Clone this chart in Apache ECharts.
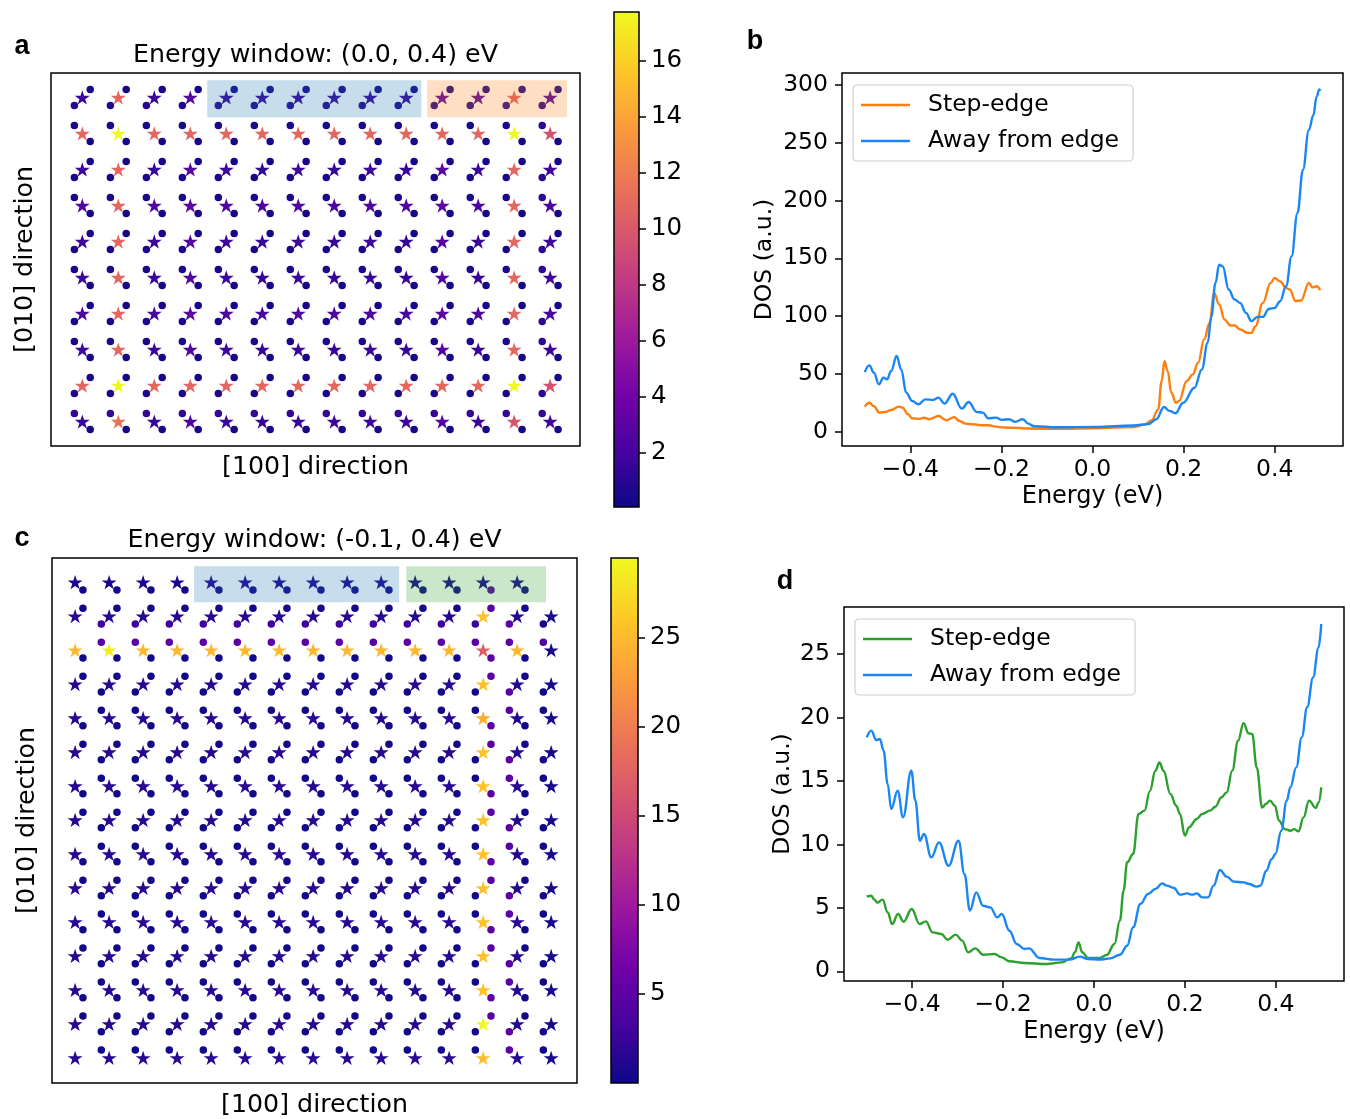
<!DOCTYPE html>
<html>
<head>
<meta charset="utf-8">
<script src="https://cdn.jsdelivr.net/npm/echarts@6/dist/echarts.min.js"></script>
<style>
  html, body { margin: 0; padding: 0; background: #ffffff; }
  #chart { width: 1350px; height: 1119px; }
</style>
</head>
<body>
<div id="chart"></div>
<script>
// ---------- lattice maps: site values (rows top to bottom, columns left to right) ----------
// window (0.0, 0.4) eV : 10 rows x 14 columns
const starsA = [
  [1.6, 10.8, 1.6, 2.8, 1.5, 1.5, 1.5, 1.5, 1.5, 1.5, 2.8, 2.5, 10.5, 2.5],
  [10.8, 17.7, 10.8, 10.8, 10.8, 10.8, 10.8, 10.8, 10.8, 10.8, 10.8, 10.8, 17.7, 9.6],
  [1.6, 10.8, 1.6, 2.9, 1.7, 1.3, 1.8, 1.5, 1.6, 1.6, 2.7, 1.6, 10.8, 1.9],
  [2.5, 10.8, 2.5, 3.1, 2.5, 2.5, 2.5, 2.5, 2.5, 2.5, 3.1, 2.5, 10.8, 2.3],
  [1.8, 10.8, 1.7, 2.8, 1.8, 1.5, 1.7, 1.5, 1.6, 1.5, 2.7, 1.6, 10.8, 1.8],
  [1.7, 10.8, 1.6, 2.7, 1.7, 1.5, 1.6, 1.5, 1.6, 1.5, 2.6, 1.5, 10.8, 1.8],
  [2.3, 10.8, 2.0, 3.2, 2.3, 2.3, 2.3, 2.3, 2.3, 2.2, 3.0, 2.3, 10.8, 2.2],
  [1.7, 10.8, 1.6, 2.7, 1.7, 1.4, 1.6, 1.5, 1.6, 1.5, 2.6, 1.5, 10.8, 1.7],
  [10.8, 17.7, 10.8, 10.8, 10.8, 10.8, 10.8, 10.8, 10.8, 10.8, 10.8, 10.8, 17.7, 9.6],
  [1.6, 11.4, 1.6, 2.7, 1.7, 1.5, 1.6, 1.7, 1.7, 1.7, 2.6, 1.7, 9.8, 1.8]
];
const dotsALeft = [
  [0.9, 0.9, 0.9, 0.9, 0.9, 0.9, 0.9, 0.9, 0.9, 0.9, 0.9, 0.9, 0.9, 1.2],
  [0.5, 0.5, 0.5, 0.5, 0.5, 0.5, 0.5, 0.5, 0.5, 0.5, 0.5, 0.5, 0.5, 1.2],
  [0.5, 0.5, 0.5, 0.5, 0.5, 0.5, 0.5, 0.5, 0.5, 0.5, 0.5, 0.5, 0.5, 1.2],
  [0.5, 0.5, 0.5, 0.5, 0.5, 0.5, 0.5, 0.5, 0.5, 0.5, 0.5, 0.5, 0.5, 1.2],
  [0.5, 0.5, 0.5, 0.5, 0.5, 0.5, 0.5, 0.5, 0.5, 0.5, 0.5, 0.5, 0.5, 1.2],
  [0.5, 0.5, 0.5, 0.5, 0.5, 0.5, 0.5, 0.5, 0.5, 0.5, 0.5, 0.5, 0.5, 1.2],
  [0.5, 0.5, 0.5, 0.5, 0.5, 0.5, 0.5, 0.5, 0.5, 0.5, 0.5, 0.5, 0.5, 1.2],
  [0.5, 0.5, 0.5, 0.5, 0.5, 0.5, 0.5, 0.5, 0.5, 0.5, 0.5, 0.5, 0.5, 1.2],
  [0.5, 0.5, 0.5, 0.5, 0.5, 0.5, 0.5, 0.5, 0.5, 0.5, 0.5, 0.5, 0.5, 1.2],
  [1.4, 1.4, 1.4, 1.4, 1.4, 1.4, 1.4, 1.4, 1.4, 1.4, 1.4, 1.4, 1.4, 1.4]
];
const dotsARight = [
  [0.4, 0.4, 0.4, 0.4, 0.4, 0.4, 0.4, 0.4, 0.4, 0.4, 0.4, 0.4, 0.4, 0.4],
  [0.4, 0.4, 0.4, 0.4, 0.4, 0.4, 0.4, 0.4, 0.4, 0.4, 0.4, 0.4, 0.4, 0.4],
  [0.4, 0.4, 0.4, 0.4, 0.4, 0.4, 0.4, 0.4, 0.4, 0.4, 0.4, 0.4, 0.4, 0.4],
  [0.4, 0.4, 0.4, 0.4, 0.4, 0.4, 0.4, 0.4, 0.4, 0.4, 0.4, 0.4, 0.4, 0.4],
  [0.4, 0.4, 0.4, 0.4, 0.4, 0.4, 0.4, 0.4, 0.4, 0.4, 0.4, 0.4, 0.4, 0.4],
  [0.4, 0.4, 0.4, 0.4, 0.4, 0.4, 0.4, 0.4, 0.4, 0.4, 0.4, 0.4, 0.4, 0.4],
  [0.4, 0.4, 0.4, 0.4, 0.4, 0.4, 0.4, 0.4, 0.4, 0.4, 0.4, 0.4, 0.4, 0.4],
  [0.4, 0.4, 0.4, 0.4, 0.4, 0.4, 0.4, 0.4, 0.4, 0.4, 0.4, 0.4, 0.4, 0.4],
  [0.4, 0.4, 0.4, 0.4, 0.4, 0.4, 0.4, 0.4, 0.4, 0.4, 0.4, 0.4, 0.4, 0.4],
  [0.4, 0.4, 0.4, 0.4, 0.4, 0.4, 0.4, 0.4, 0.4, 0.4, 0.4, 0.4, 0.4, 0.4]
];
const rangeA = [0.07, 17.75];
const ticksA = [2, 4, 6, 8, 10, 12, 14, 16];
// highlighted strips [x0, x1, y0, y1] in lattice units
const boxesA = [[3.47, 9.42, -0.48, 0.55], [9.58, 13.47, -0.48, 0.55]];

// window (-0.1, 0.4) eV : 15 rows x 15 columns
const starsC = [
  [0.8, 0.8, 0.8, 0.8, 1.2, 1.2, 1.2, 1.2, 1.2, 1.2, 1.0, 1.0, 1.0, 1.0, null],
  [1.5, 1.5, 1.5, 1.5, 1.5, 1.5, 1.5, 1.5, 1.5, 1.5, 1.5, 1.5, 25.6, 1.5, 0.5],
  [24.8, 28.6, 24.8, 24.8, 24.8, 24.8, 24.8, 24.8, 24.8, 24.8, 24.8, 24.8, 17.2, 24.8, 0.5],
  [1.5, 1.5, 1.5, 1.5, 1.5, 1.5, 1.5, 1.5, 1.5, 1.5, 1.5, 1.5, 25.6, 1.5, 0.5],
  [1.5, 1.5, 1.5, 1.5, 1.5, 1.5, 1.5, 1.5, 1.5, 1.5, 1.5, 1.5, 24.0, 1.5, 0.5],
  [1.5, 1.5, 1.5, 1.5, 1.5, 1.5, 1.5, 1.5, 1.5, 1.5, 1.5, 1.5, 25.6, 1.5, 0.5],
  [1.5, 1.5, 1.5, 1.5, 1.5, 1.5, 1.5, 1.5, 1.5, 1.5, 1.5, 1.5, 25.6, 1.5, 0.5],
  [1.5, 1.5, 1.5, 1.5, 1.5, 1.5, 1.5, 1.5, 1.5, 1.5, 1.5, 1.5, 25.6, 1.5, 0.5],
  [1.5, 1.5, 1.5, 1.5, 1.5, 1.5, 1.5, 1.5, 1.5, 1.5, 1.5, 1.5, 25.6, 1.5, 0.5],
  [1.5, 1.5, 1.5, 1.5, 1.5, 1.5, 1.5, 1.5, 1.5, 1.5, 1.5, 1.5, 25.6, 1.5, 0.5],
  [1.5, 1.5, 1.5, 1.5, 1.5, 1.5, 1.5, 1.5, 1.5, 1.5, 1.5, 1.5, 25.6, 1.5, 0.5],
  [1.5, 1.5, 1.5, 1.5, 1.5, 1.5, 1.5, 1.5, 1.5, 1.5, 1.5, 1.5, 25.6, 1.5, 0.5],
  [1.5, 1.5, 1.5, 1.5, 1.5, 1.5, 1.5, 1.5, 1.5, 1.5, 1.5, 1.5, 25.6, 1.5, 0.5],
  [1.5, 1.5, 1.5, 1.5, 1.5, 1.5, 1.5, 1.5, 1.5, 1.5, 1.5, 1.5, 29.5, 1.5, 0.5],
  [1.5, 1.5, 1.5, 1.5, 1.5, 1.5, 1.5, 1.5, 1.5, 1.5, 1.5, 1.5, 25.4, 1.5, 0.5]
];
const dotsCLeft = [
  [null, null, null, null, null, null, null, null, null, null, null, null, null, null, null],
  [null, 3.0, 3.0, 3.0, 3.0, 3.0, 3.0, 3.0, 3.0, 3.0, 3.0, 3.0, 2.5, 4.8, 0.3],
  [null, 4.8, 4.8, 4.8, 4.8, 4.8, 4.8, 4.8, 4.8, 4.8, 4.8, 4.8, 4.8, 4.8, 4.0],
  [null, 0.3, 0.3, 0.3, 0.3, 0.3, 0.3, 0.3, 0.3, 0.3, 0.3, 0.3, 0.3, 4.8, 0.3],
  [null, 0.3, 0.3, 0.3, 0.3, 0.3, 0.3, 0.3, 0.3, 0.3, 0.3, 0.3, 0.3, 4.8, 0.3],
  [null, 0.3, 0.3, 0.3, 0.3, 0.3, 0.3, 0.3, 0.3, 0.3, 0.3, 0.3, 0.3, 4.8, 0.3],
  [null, 0.3, 0.3, 0.3, 0.3, 0.3, 0.3, 0.3, 0.3, 0.3, 0.3, 0.3, 0.3, 4.8, 0.3],
  [null, 0.3, 0.3, 0.3, 0.3, 0.3, 0.3, 0.3, 0.3, 0.3, 0.3, 0.3, 0.3, 4.8, 0.3],
  [null, 0.3, 0.3, 0.3, 0.3, 0.3, 0.3, 0.3, 0.3, 0.3, 0.3, 0.3, 0.3, 4.8, 0.3],
  [null, 0.3, 0.3, 0.3, 0.3, 0.3, 0.3, 0.3, 0.3, 0.3, 0.3, 0.3, 0.3, 4.8, 0.3],
  [null, 0.3, 0.3, 0.3, 0.3, 0.3, 0.3, 0.3, 0.3, 0.3, 0.3, 0.3, 0.3, 4.8, 0.3],
  [null, 0.3, 0.3, 0.3, 0.3, 0.3, 0.3, 0.3, 0.3, 0.3, 0.3, 0.3, 0.3, 4.8, 0.3],
  [null, 0.3, 0.3, 0.3, 0.3, 0.3, 0.3, 0.3, 0.3, 0.3, 0.3, 0.3, 0.3, 4.8, 0.3],
  [null, 0.3, 0.3, 0.3, 0.3, 0.3, 0.3, 0.3, 0.3, 0.3, 0.3, 0.3, 0.3, 4.8, 0.3],
  [null, 0.3, 0.3, 0.3, 0.3, 0.3, 0.3, 0.3, 0.3, 0.3, 0.3, 0.3, 0.3, 4.8, 0.3]
];
const dotsCRight = [
  [0.3, 0.3, 0.3, 0.3, 0.3, 0.3, 0.3, 0.3, 0.3, 0.3, 0.3, 0.3, 4.8, 0.3, null],
  [0.3, 0.3, 0.3, 0.3, 0.3, 0.3, 0.3, 0.3, 0.3, 0.3, 0.3, 0.3, 4.8, 0.3, null],
  [0.3, 0.3, 0.3, 0.3, 0.3, 0.3, 0.3, 0.3, 0.3, 0.3, 0.3, 0.3, 4.8, 0.3, null],
  [0.3, 0.3, 0.3, 0.3, 0.3, 0.3, 0.3, 0.3, 0.3, 0.3, 0.3, 0.3, 4.8, 0.3, null],
  [0.3, 0.3, 0.3, 0.3, 0.3, 0.3, 0.3, 0.3, 0.3, 0.3, 0.3, 0.3, 4.8, 0.3, null],
  [0.3, 0.3, 0.3, 0.3, 0.3, 0.3, 0.3, 0.3, 0.3, 0.3, 0.3, 0.3, 4.8, 0.3, null],
  [0.3, 0.3, 0.3, 0.3, 0.3, 0.3, 0.3, 0.3, 0.3, 0.3, 0.3, 0.3, 4.8, 0.3, null],
  [0.3, 0.3, 0.3, 0.3, 0.3, 0.3, 0.3, 0.3, 0.3, 0.3, 0.3, 0.3, 4.8, 0.3, null],
  [0.3, 0.3, 0.3, 0.3, 0.3, 0.3, 0.3, 0.3, 0.3, 0.3, 0.3, 0.3, 4.8, 0.3, null],
  [0.3, 0.3, 0.3, 0.3, 0.3, 0.3, 0.3, 0.3, 0.3, 0.3, 0.3, 0.3, 4.8, 0.3, null],
  [0.3, 0.3, 0.3, 0.3, 0.3, 0.3, 0.3, 0.3, 0.3, 0.3, 0.3, 0.3, 4.8, 0.3, null],
  [0.3, 0.3, 0.3, 0.3, 0.3, 0.3, 0.3, 0.3, 0.3, 0.3, 0.3, 0.3, 4.8, 0.3, null],
  [0.3, 0.3, 0.3, 0.3, 0.3, 0.3, 0.3, 0.3, 0.3, 0.3, 0.3, 0.3, 4.8, 0.3, null],
  [0.3, 0.3, 0.3, 0.3, 0.3, 0.3, 0.3, 0.3, 0.3, 0.3, 0.3, 0.3, 4.8, 0.3, null],
  [null, null, null, null, null, null, null, null, null, null, null, null, null, null, null]
];
const rangeC = [0.0, 29.5];
const ticksC = [5, 10, 15, 20, 25];
const boxesC = [[3.5, 9.53, -0.47, 0.59], [9.74, 13.85, -0.47, 0.59]];

// ---------- density of states curves ----------
const bStepE = [-0.500,-0.490,-0.480,-0.468,-0.455,-0.442,-0.425,-0.417,-0.405,-0.396,-0.379,-0.371,-0.358,-0.338,-0.321,-0.304,-0.292,-0.279,-0.262,-0.245,-0.229,-0.212,-0.195,-0.162,-0.145,-0.078,0.006,0.090,0.115,0.130,0.144,0.152,0.158,0.165,0.173,0.183,0.190,0.207,0.220,0.232,0.245,0.257,0.267,0.278,0.290,0.303,0.312,0.324,0.341,0.349,0.358,0.374,0.391,0.400,0.412,0.425,0.433,0.446,0.458,0.475,0.483,0.492,0.500];
const bStepDOS = [21.6,25,22,16.4,17,18.7,21.6,20.7,15,11.5,11,12,10.7,13.5,9.8,12.4,9.2,6.9,6.3,5.5,5.5,4.3,3.5,3.2,2.6,2.3,2.9,4,6,9.8,19,43.8,61,52.4,33.7,25,26.5,43.8,49.5,59.6,79.8,94,120,110,97,91.8,91.8,88.4,85.5,85.5,91.3,111.4,128.7,133,130,124.4,123,113,113.5,128.7,125,125.8,122.4];
const bAwayE = [-0.500,-0.490,-0.480,-0.469,-0.459,-0.451,-0.442,-0.430,-0.420,-0.409,-0.396,-0.382,-0.367,-0.350,-0.338,-0.325,-0.307,-0.287,-0.272,-0.254,-0.241,-0.229,-0.212,-0.199,-0.183,-0.170,-0.153,-0.141,-0.128,-0.078,0.006,0.090,0.123,0.140,0.157,0.169,0.182,0.199,0.224,0.240,0.253,0.261,0.270,0.278,0.286,0.299,0.312,0.324,0.337,0.349,0.362,0.374,0.387,0.400,0.412,0.425,0.437,0.450,0.462,0.475,0.485,0.492,0.498,0.500];
const bAwayDOS = [51.5,57.3,51,40.9,46.6,45.2,52.4,65.4,53.8,33.7,26.5,23.6,27.9,27.4,29.4,24.2,32.8,19.9,25.6,17,16.4,11.5,12.1,10.1,10.7,8.4,10.7,6.9,4.6,3.7,4,5.2,6.6,10.7,21.3,17.9,15.8,25,38,53.8,76.9,99.9,128.7,144.5,143,123,114.3,111.4,102.8,95.6,99.3,99.3,106.2,107,112.9,125.8,151.7,189.2,226.6,261,274,290,296.3,295];

const dStepE = [-0.500,-0.490,-0.483,-0.477,-0.465,-0.454,-0.444,-0.431,-0.419,-0.401,-0.384,-0.370,-0.355,-0.336,-0.322,-0.304,-0.290,-0.277,-0.261,-0.244,-0.219,-0.203,-0.186,-0.153,-0.104,-0.071,-0.050,-0.042,-0.034,-0.026,-0.013,0.012,0.028,0.045,0.057,0.065,0.073,0.086,0.098,0.111,0.123,0.135,0.144,0.153,0.168,0.181,0.189,0.200,0.209,0.226,0.238,0.255,0.267,0.280,0.292,0.304,0.317,0.329,0.340,0.348,0.358,0.370,0.379,0.387,0.398,0.407,0.420,0.432,0.440,0.450,0.461,0.473,0.488,0.494,0.500];
const dStepDOS = [5.88,5.96,5.65,5.41,5.65,4.65,3.73,4.52,3.91,4.91,3.73,3.94,3.07,2.94,2.49,2.89,2.42,1.5,1.81,1.31,1.37,1.1,0.79,0.66,0.58,0.71,1.02,1.5,2.28,1.5,1.05,1.05,1.29,2.15,4.0,6.36,8.59,9.24,12.4,12.66,14.2,15.8,16.46,15.8,13.97,13.05,12.4,10.69,11.34,12.0,12.4,12.66,12.97,13.7,14.1,15.8,18.17,19.54,18.75,18.7,16.07,12.9,13.2,13.45,13.05,11.87,11.2,11.08,11.2,11.03,12.13,13.45,12.87,13.3,14.5];
const dAwayE = [-0.500,-0.490,-0.479,-0.471,-0.463,-0.454,-0.446,-0.432,-0.420,-0.402,-0.393,-0.383,-0.374,-0.358,-0.341,-0.320,-0.298,-0.285,-0.273,-0.259,-0.244,-0.228,-0.213,-0.203,-0.186,-0.170,-0.153,-0.143,-0.120,-0.087,-0.054,-0.031,-0.013,0.012,0.036,0.057,0.073,0.086,0.102,0.119,0.135,0.150,0.160,0.176,0.189,0.205,0.216,0.226,0.238,0.251,0.263,0.277,0.292,0.308,0.329,0.341,0.358,0.366,0.379,0.391,0.399,0.412,0.424,0.432,0.445,0.457,0.469,0.482,0.494,0.500];
const dAwayDOS = [18.43,18.96,18.22,18.3,17.4,14.76,12.79,14.23,12.13,15.8,13.45,10.29,10.82,8.98,10.16,8.32,10.29,7.67,4.78,6.22,5.17,5.04,4.25,4.52,3.2,2.15,1.76,1.81,1.05,0.92,0.92,1.16,0.97,0.92,1.02,1.31,2.02,3.47,5.3,6.09,6.49,6.93,6.75,6.57,6.04,6.14,6.04,6.14,5.83,5.83,6.75,7.98,7.46,7.06,7.01,6.88,6.67,6.75,7.93,8.85,9.24,11.08,13.45,14.5,16.07,18.43,20.8,23.16,25.5,27.36];

const energyTicks = [-0.4, -0.2, 0, 0.2, 0.4];
const dosTicksB = [0, 50, 100, 150, 200, 250, 300];
const dosTicksD = [0, 5, 10, 15, 20, 25];

// ---------- styling ----------
const PLASMA = ['#0d0887', '#46039f', '#7201a8', '#9c179e', '#bd3786',
                '#d8576b', '#ed7953', '#fb9f3a', '#fdca26', '#f0f921'];
const ORANGE = '#ff7f0e';
const BLUE = '#1a86f5';
const GREEN = '#2ca02c';
const FONT = 'DejaVu Sans';
const FS_TICK = 23.5;     // tick labels and legends
const FS_MAP = 25.3;      // map titles and lattice direction labels
const FS_CB = 24.5;       // colour bar labels
const FS_E = 24;          // energy axis label
const STAR_SIZE = 15;
const DOT_SIZE = 7.5;
const STAR = 'path://M0,-1L0.2245,-0.309L0.951,-0.309L0.363,0.118L0.588,0.809L0,0.382L-0.588,0.809L-0.363,0.118L-0.951,-0.309L-0.2245,-0.309Z';
const BOX_FILL_A = ['rgba(31,119,180,0.25)', 'rgba(255,127,14,0.25)'];
const BOX_FILL_C = ['rgba(31,119,180,0.25)', 'rgba(44,160,44,0.25)'];

// star sites plus their two neighbouring atoms; rows alternate between
// '/' and '\' orientation (y grows downward on the inverted axis)
function lattice(stars, left, right, slashOnEven, off) {
  const starPts = [], dotPts = [];
  stars.forEach((row, r) => row.forEach((v, c) => {
    if (v != null) starPts.push([c, r, v]);
    const slash = (r % 2 === 0) === slashOnEven;
    const dy = slash ? off : -off;
    if (left[r][c] != null) dotPts.push([c - off, r + dy, left[r][c]]);
    if (right[r][c] != null) dotPts.push([c + off, r - dy, right[r][c]]);
  }));
  return { starPts, dotPts };
}
const latA = lattice(starsA, dotsALeft, dotsARight, true, 0.22);
const latC = lattice(starsC, dotsCLeft, dotsCRight, false, 0.23);

const zip = (xs, ys) => xs.map((x, i) => [x, ys[i]]);
const fmtE = v => (v < 0 ? '\u2212' : '') + Math.abs(v).toFixed(1);

const gradient = new echarts.graphic.LinearGradient(0, 1, 0, 0,
  PLASMA.map((c, i) => ({ offset: i / (PLASMA.length - 1), color: c })));

function boxRender(fills) {
  return (params, api) => {
    const p0 = api.coord([api.value(0), api.value(2)]);
    const p1 = api.coord([api.value(1), api.value(3)]);
    return {
      type: 'rect',
      shape: { x: Math.min(p0[0], p1[0]), y: Math.min(p0[1], p1[1]),
               width: Math.abs(p1[0] - p0[0]), height: Math.abs(p1[1] - p0[1]) },
      style: { fill: fills[params.dataIndex] }
    };
  };
}
function colorbarRender(params, api) {
  const lo = api.coord([0, api.value(2)]);
  const hi = api.coord([1, api.value(3)]);
  const shape = { x: lo[0], y: hi[1], width: hi[0] - lo[0], height: lo[1] - hi[1] };
  return {
    type: 'group',
    children: [
      { type: 'rect', shape, style: { fill: gradient } },
      { type: 'rect', shape, style: { fill: 'none', stroke: '#000', lineWidth: 1.5 } }
    ]
  };
}

const frame = { show: true, borderColor: '#000', borderWidth: 1.5, backgroundColor: 'transparent',
                containLabel: false, outerBoundsMode: 'none' };
const hiddenParts = { axisLine: { show: false, onZero: false }, axisTick: { show: false },
                      axisLabel: { show: false }, splitLine: { show: false } };
const nameStyle = fs => ({ fontSize: fs, color: '#000', fontFamily: FONT });
const tickStyle = { show: true, length: 7, lineStyle: { color: '#000', width: 1.5 } };
const labelStyle = fs => ({ fontSize: fs, color: '#000', fontFamily: FONT });
const noLine = { show: false, onZero: false };

function legendFor(left, top, names) {
  return {
    left, top, orient: 'vertical', data: names, icon: 'rect',
    itemWidth: 49, itemHeight: 2.5, itemGap: 12,
    padding: [8, 14, 8, 8],
    borderColor: '#cfcfcf', borderWidth: 1.2, borderRadius: 4,
    backgroundColor: '#ffffff', selectedMode: false,
    formatter: n => n.split('|')[0],
    textStyle: { fontSize: FS_TICK, color: '#000', fontFamily: FONT, padding: [0, 0, 0, 13] }
  };
}

function energyAxis(gridIndex) {
  return { gridIndex, type: 'value', min: -0.55, max: 0.55,
    axisLine: noLine, splitLine: { show: false },
    axisTick: Object.assign({ customValues: energyTicks }, tickStyle),
    axisLabel: Object.assign({ customValues: energyTicks, formatter: fmtE, margin: 12 }, labelStyle(FS_TICK)),
    name: 'Energy (eV)', nameLocation: 'middle', nameGap: 39, nameTextStyle: nameStyle(FS_E) };
}
function dosAxis(gridIndex, min, max, ticks, gap) {
  return { gridIndex, type: 'value', min, max,
    axisLine: noLine, splitLine: { show: false },
    axisTick: Object.assign({ customValues: ticks }, tickStyle),
    axisLabel: Object.assign({ customValues: ticks, margin: 14 }, labelStyle(FS_TICK)),
    name: 'DOS (a.u.)', nameLocation: 'middle', nameGap: gap, nameTextStyle: nameStyle(FS_TICK) };
}
function colorbarAxis(gridIndex, range, ticks) {
  return { gridIndex, type: 'value', position: 'right', min: range[0], max: range[1],
    axisLine: noLine, splitLine: { show: false },
    axisTick: Object.assign({ customValues: ticks }, tickStyle),
    axisLabel: Object.assign({ customValues: ticks, margin: 12 }, labelStyle(FS_CB)) };
}

const option = {
  animation: false,
  backgroundColor: '#ffffff',
  textStyle: { fontFamily: FONT },
  grid: [
    Object.assign({ left: 51, top: 73, width: 529, height: 373 }, frame),
    Object.assign({ left: 614, top: 12, width: 25, height: 495 }, frame, { show: false }),
    Object.assign({ left: 842, top: 73, width: 501, height: 373 }, frame),
    Object.assign({ left: 52, top: 558, width: 525, height: 525 }, frame),
    Object.assign({ left: 611, top: 558, width: 27, height: 525 }, frame, { show: false }),
    Object.assign({ left: 844, top: 607, width: 500, height: 374 }, frame)
  ],
  xAxis: [
    Object.assign({ gridIndex: 0, type: 'value', min: -0.87, max: 13.83,
      name: '[100] direction', nameLocation: 'middle', nameGap: 9, nameTextStyle: nameStyle(FS_MAP) }, hiddenParts),
    Object.assign({ gridIndex: 1, type: 'value', min: 0, max: 1 }, hiddenParts),
    energyAxis(2),
    Object.assign({ gridIndex: 3, type: 'value', min: -0.68, max: 14.76,
      name: '[100] direction', nameLocation: 'middle', nameGap: 10, nameTextStyle: nameStyle(FS_MAP) }, hiddenParts),
    Object.assign({ gridIndex: 4, type: 'value', min: 0, max: 1 }, hiddenParts),
    energyAxis(5)
  ],
  yAxis: [
    Object.assign({ gridIndex: 0, type: 'value', inverse: true, min: -0.68, max: 9.68,
      name: '[010] direction', nameLocation: 'middle', nameGap: 13, nameTextStyle: nameStyle(FS_MAP) }, hiddenParts),
    colorbarAxis(1, rangeA, ticksA),
    dosAxis(2, -12.5, 310.5, dosTicksB, 65),
    Object.assign({ gridIndex: 3, type: 'value', inverse: true, min: -0.71, max: 14.74,
      name: '[010] direction', nameLocation: 'middle', nameGap: 12, nameTextStyle: nameStyle(FS_MAP) }, hiddenParts),
    colorbarAxis(4, rangeC, ticksC),
    dosAxis(5, -0.76, 28.7, dosTicksD, 49)
  ],
  visualMap: [
    { type: 'continuous', show: false, seriesIndex: [0, 1], dimension: 2,
      min: rangeA[0], max: rangeA[1], inRange: { color: PLASMA } },
    { type: 'continuous', show: false, seriesIndex: [6, 7], dimension: 2,
      min: rangeC[0], max: rangeC[1], inRange: { color: PLASMA } }
  ],
  legend: [
    legendFor(853, 85, ['Step-edge|b', 'Away from edge|b']),
    legendFor(855, 619, ['Step-edge|d', 'Away from edge|d'])
  ],
  series: [
    // 0-3: window (0.0, 0.4) eV map and colour bar
    { type: 'scatter', xAxisIndex: 0, yAxisIndex: 0, symbol: 'circle', symbolSize: DOT_SIZE,
      itemStyle: { opacity: 1 }, data: latA.dotPts, z: 2 },
    { type: 'scatter', xAxisIndex: 0, yAxisIndex: 0, symbol: STAR, symbolKeepAspect: true, symbolSize: STAR_SIZE,
      itemStyle: { opacity: 1 }, data: latA.starPts, z: 3 },
    { type: 'custom', xAxisIndex: 0, yAxisIndex: 0, renderItem: boxRender(BOX_FILL_A),
      encode: { x: [0, 1], y: [2, 3] }, data: boxesA, z: 4, silent: true },
    { type: 'custom', xAxisIndex: 1, yAxisIndex: 1, renderItem: colorbarRender,
      encode: { x: [0, 1], y: [2, 3] }, data: [[0, 1, rangeA[0], rangeA[1]]], silent: true },
    // 4-5: DOS at step edge vs. away, window (0.0, 0.4) eV
    { type: 'line', name: 'Step-edge|b', xAxisIndex: 2, yAxisIndex: 2, data: zip(bStepE, bStepDOS),
      showSymbol: false, smooth: 0.4, smoothMonotone: 'x', color: ORANGE, lineStyle: { width: 2.4, color: ORANGE } },
    { type: 'line', name: 'Away from edge|b', xAxisIndex: 2, yAxisIndex: 2, data: zip(bAwayE, bAwayDOS),
      showSymbol: false, smooth: 0.4, smoothMonotone: 'x', color: BLUE, lineStyle: { width: 2.4, color: BLUE } },
    // 6-9: window (-0.1, 0.4) eV map and colour bar
    { type: 'scatter', xAxisIndex: 3, yAxisIndex: 3, symbol: 'circle', symbolSize: DOT_SIZE,
      itemStyle: { opacity: 1 }, data: latC.dotPts, z: 2 },
    { type: 'scatter', xAxisIndex: 3, yAxisIndex: 3, symbol: STAR, symbolKeepAspect: true, symbolSize: STAR_SIZE,
      itemStyle: { opacity: 1 }, data: latC.starPts, z: 3 },
    { type: 'custom', xAxisIndex: 3, yAxisIndex: 3, renderItem: boxRender(BOX_FILL_C),
      encode: { x: [0, 1], y: [2, 3] }, data: boxesC, z: 4, silent: true },
    { type: 'custom', xAxisIndex: 4, yAxisIndex: 4, renderItem: colorbarRender,
      encode: { x: [0, 1], y: [2, 3] }, data: [[0, 1, rangeC[0], rangeC[1]]], silent: true },
    // 10-11: DOS at step edge vs. away, window (-0.1, 0.4) eV
    { type: 'line', name: 'Step-edge|d', xAxisIndex: 5, yAxisIndex: 5, data: zip(dStepE, dStepDOS),
      showSymbol: false, smooth: 0.4, smoothMonotone: 'x', color: GREEN, lineStyle: { width: 2.4, color: GREEN } },
    { type: 'line', name: 'Away from edge|d', xAxisIndex: 5, yAxisIndex: 5, data: zip(dAwayE, dAwayDOS),
      showSymbol: false, smooth: 0.4, smoothMonotone: 'x', color: BLUE, lineStyle: { width: 2.4, color: BLUE } }
  ],
  graphic: [
    { type: 'text', x: 22, y: 47, style: { text: 'a', font: 'bold 27px "Liberation Sans"', fill: '#000', align: 'center', verticalAlign: 'middle' } },
    { type: 'text', x: 755, y: 42, style: { text: 'b', font: 'bold 27px "Liberation Sans"', fill: '#000', align: 'center', verticalAlign: 'middle' } },
    { type: 'text', x: 22, y: 539, style: { text: 'c', font: 'bold 27px "Liberation Sans"', fill: '#000', align: 'center', verticalAlign: 'middle' } },
    { type: 'text', x: 785, y: 582, style: { text: 'd', font: 'bold 27px "Liberation Sans"', fill: '#000', align: 'center', verticalAlign: 'middle' } },
    { type: 'text', x: 315.5, y: 55, style: { text: 'Energy window: (0.0, 0.4) eV', font: FS_MAP + 'px "DejaVu Sans"', fill: '#000', align: 'center', verticalAlign: 'middle' } },
    { type: 'text', x: 314.5, y: 540, style: { text: 'Energy window: (-0.1, 0.4) eV', font: FS_MAP + 'px "DejaVu Sans"', fill: '#000', align: 'center', verticalAlign: 'middle' } }
  ]
};

const chart = echarts.init(document.getElementById('chart'), null, { renderer: 'canvas' });
chart.setOption(option);
</script>
</body>
</html>
